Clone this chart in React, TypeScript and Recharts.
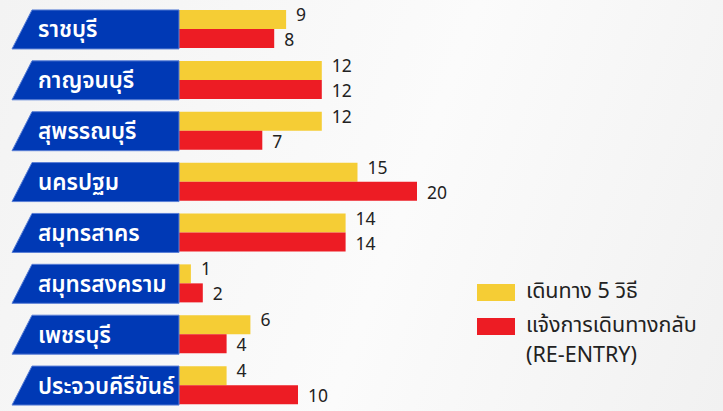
import { BarChart, Bar, XAxis, YAxis, LabelList } from 'recharts'

const provinces = ['ราชบุรี', 'กาญจนบุรี', 'สุพรรณบุรี', 'นครปฐม', 'สมุทรสาคร', 'สมุทรสงคราม', 'เพชรบุรี', 'ประจวบคีรีขันธ์']
const fiveWays = [9, 12, 12, 15, 14, 1, 6, 4]
const reEntry = [8, 12, 7, 20, 14, 2, 4, 10]

const seriesNames = ['เดินทาง 5 วิธี', 'แจ้งการเดินทางกลับ', '(RE-ENTRY)']
const YELLOW = '#F5CD35'
const RED = '#ED1C24'
const BLUE = '#0039B5'
const FONT = '"Noto Sans Thai", "Noto Sans", Tahoma, sans-serif'

const data = provinces.map((p, i) => ({ name: p, five: fiveWays[i], reentry: reEntry[i] }))

// blue slanted tag behind each province name
function ProvinceTick(props: any) {
  const { y, payload } = props
  const h = 39
  const top = y - h / 2
  const bottom = y + h / 2
  const right = 179
  const path = `M32,${top} L${right},${top} L${right},${bottom} L12,${bottom} Z`
  return (
    <g>
      <path d={path} fill={BLUE} stroke="#5a7fd6" strokeWidth={1} />
      <text
        x={38}
        y={y + 1}
        fill="#fff"
        fontSize={22.5}
        fontWeight={600}
        fontFamily={FONT}
        dominantBaseline="central"
      >
        {payload.value}
      </text>
    </g>
  )
}

// value label to the right of a bar, nudged up or down a bit
const valueLabel = (dy: number) => (props: any) => {
  const { x, y, width, height, value } = props
  return (
    <text
      x={x + width + 10}
      y={y + height / 2 + dy}
      fill="#222"
      fontSize={17.5}
      fontFamily={FONT}
      dominantBaseline="central"
    >
      {value}
    </text>
  )
}

function LegendBox() {
  return (
    <div
      style={{
        position: 'absolute',
        left: 477,
        top: 275,
        fontFamily: FONT,
        fontSize: 21.5,
        color: '#222',
        lineHeight: '34px',
      }}
    >
      <div style={{ display: 'flex', alignItems: 'center' }}>
        <span style={{ width: 38, height: 17, background: YELLOW, marginRight: 11, display: 'inline-block' }} />
        {seriesNames[0]}
      </div>
      <div style={{ display: 'flex', alignItems: 'center' }}>
        <span style={{ width: 38, height: 17, background: RED, marginRight: 11, display: 'inline-block' }} />
        {seriesNames[1]}
      </div>
      <div style={{ paddingLeft: 49, marginTop: -4 }}>{seriesNames[2]}</div>
    </div>
  )
}

export default function App() {
  return (
    <div
      style={{
        width: 723,
        height: 411,
        position: 'absolute',
        left: 0,
        top: 0,
        background: 'linear-gradient(110deg, #f3f3f3 0%, #fbfbfb 55%, #f1f1f1 100%)',
      }}
    >
      <style>{'body{margin:0}'}</style>
      <BarChart
        width={723}
        height={411}
        data={data}
        layout="vertical"
        margin={{ top: 4, right: 306, left: 0, bottom: 0 }}
        barCategoryGap={6}
        barGap={0}
      >
        <XAxis type="number" domain={[0, 20]} hide />
        <YAxis
          type="category"
          dataKey="name"
          width={179}
          axisLine={false}
          tickLine={false}
          tick={<ProvinceTick />}
        />
        <Bar dataKey="five" fill={YELLOW} isAnimationActive={false}>
          <LabelList dataKey="five" content={valueLabel(-4)} />
        </Bar>
        <Bar dataKey="reentry" fill={RED} isAnimationActive={false}>
          <LabelList dataKey="reentry" content={valueLabel(2)} />
        </Bar>
      </BarChart>
      <LegendBox />
    </div>
  )
}
